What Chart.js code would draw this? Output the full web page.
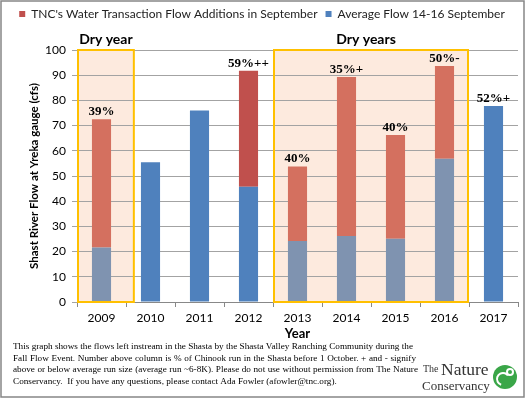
<!DOCTYPE html>
<html>
<head>
<meta charset="utf-8">
<script src="https://cdn.jsdelivr.net/npm/chart.js@4/dist/chart.umd.min.js"></script>
<style>
html,body{margin:0;padding:0;background:#fff;}
#wrap{width:526px;height:399px;position:relative;}
canvas{display:block;}
</style>
</head>
<body>
<div id="wrap"><canvas id="c" width="526" height="399"></canvas></div>
<script>
// ---- data ----
const years = ['2009','2010','2011','2012','2013','2014','2015','2016','2017'];
const averageFlow = [21.6, 55.5, 76.0, 45.7, 24.2, 26.2, 25.1, 56.8, 77.8];
const flowAdditions = [50.9, 0, 0, 46.1, 29.6, 63.1, 41.2, 36.9, 0];
const chinookPct = ['39%', '', '', '59%++', '40%', '35%+', '40%', '50%-', '52%+'];
const dryYear = [true, false, false, false, true, true, true, true, false];
const dryGroups = [
  { label: 'Dry year', from: '2009', to: '2009' },
  { label: 'Dry years', from: '2013', to: '2016' }
];
const yTicks = [0, 10, 20, 30, 40, 50, 60, 70, 80, 90, 100];
const legendLabels = ["TNC's Water Transaction Flow Additions in September", 'Average Flow 14-16 September'];
const footnoteLines = [
  'This graph shows the flows left instream in the Shasta by the Shasta Valley Ranching Community during the',
  'Fall Flow Event.  Number above column is % of Chinook run in the Shasta before 1 October.  + and - signify',
  'above or below average run size (average run ~6-8K). Please do not use without permission from The Nature',
  'Conservancy.  If you have any questions, please contact Ada Fowler (afowler@tnc.org).'
];

const RED = '#c0504d', RED_DRY = '#d4705f';
const BLUE = '#4f81bd', BLUE_DRY = '#7f93b0';
const PEACH = '#fdeade', ORANGE = '#ffc000';
const SANS = 'Lato, "Open Sans", sans-serif';
const SERIF = '"Liberation Serif", "DejaVu Serif", serif';

function colorFor(base, dry) {
  return ctx => (ctx.type === 'data' && dryYear[ctx.dataIndex] ? dry : base);
}

function justify(ctx, text, x, y, width) {
  const words = text.split(/\s+/);
  const natural = ctx.measureText(words.join(' ')).width;
  const sp = ctx.measureText(' ').width;
  const extra = (width - natural) / (words.length - 1);
  let cx = x;
  words.forEach(w => { ctx.fillText(w, cx, y); cx += ctx.measureText(w).width + sp + extra; });
}

const legendSpacer = {
  id: 'legendSpacer',
  beforeLayout(chart) {
    const lg = chart.legend;
    if (lg && !lg._spaced) {
      const fit = lg.fit.bind(lg);
      lg.fit = function () { fit(); this.height += 20; };
      lg._spaced = true;
    }
  }
};

const boxPlugin = {
  id: 'dryBoxes',
  _rect(chart, g) {
    const x = chart.scales.x, y = chart.scales.y;
    const i0 = years.indexOf(g.from), i1 = years.indexOf(g.to);
    const w = x.getPixelForValue(1) - x.getPixelForValue(0);
    let left = x.getPixelForValue(i0) - w / 2 + 1;
    let right = x.getPixelForValue(i1) + w / 2 - 1;
    if (i0 === i1) right = x.getPixelForValue(i1) + w * 0.66;
    return { left, right, top: y.getPixelForValue(100), bottom: y.getPixelForValue(0) };
  },
  beforeDraw(chart) {
    const ctx = chart.ctx;
    ctx.save();
    ctx.fillStyle = '#fff';
    ctx.fillRect(0, 0, chart.width, chart.height);
    ctx.fillStyle = PEACH;
    dryGroups.forEach(g => {
      const r = this._rect(chart, g);
      ctx.fillRect(r.left, r.top, r.right - r.left, r.bottom - r.top);
    });
    ctx.restore();
  },
  afterDatasetsDraw(chart) {
    const ctx = chart.ctx;
    ctx.save();
    ctx.strokeStyle = ORANGE;
    ctx.lineWidth = 2;
    ctx.fillStyle = '#000';
    ctx.font = 'bold 14px ' + SANS;
    ctx.textAlign = 'center';
    ctx.textBaseline = 'middle';
    dryGroups.forEach(g => {
      const r = this._rect(chart, g);
      ctx.strokeRect(r.left, r.top, r.right - r.left, r.bottom - r.top);
      ctx.fillText(g.label, (r.left + r.right) / 2 - (g.from === g.to ? 0 : 5), r.top - 11);
    });
    // percentage labels above the stacks
    ctx.font = 'bold 13px ' + SERIF;
    ctx.textBaseline = 'alphabetic';
    const metas = chart.getSortedVisibleDatasetMetas();
    chinookPct.forEach((t, i) => {
      if (!t) return;
      let top = Infinity, cx = 0;
      metas.forEach(m => { const el = m.data[i]; if (el && el.y < top) { top = el.y; cx = el.x; } });
      ctx.fillText(t, cx, top - 4);
    });
    ctx.restore();
  },
  afterDraw(chart) {
    const ctx = chart.ctx;
    ctx.save();
    // footnote
    ctx.fillStyle = '#000';
    ctx.font = '9.2px ' + SERIF;
    ctx.textAlign = 'left';
    ctx.textBaseline = 'middle';
    const ends = [413, 416, 418];
    footnoteLines.forEach((l, i) => {
      if (i < ends.length) justify(ctx, l, 13, 347 + i * 11.5, ends[i] - 13);
      else ctx.fillText(l, 13, 347 + i * 11.5);
    });
    // logo
    ctx.fillStyle = '#333';
    ctx.font = '10px ' + SERIF;
    ctx.fillText('The', 423, 369);
    ctx.font = '17.5px ' + SERIF;
    ctx.fillText('Nature', 441, 370);
    ctx.font = '13px ' + SERIF;
    ctx.fillText('Conservancy', 422, 387);
    ctx.beginPath();
    ctx.fillStyle = '#3aa648';
    ctx.arc(505, 377, 12, 0, Math.PI * 2);
    ctx.fill();
    ctx.strokeStyle = '#fff';
    ctx.lineWidth = 2;
    ctx.beginPath();
    ctx.arc(503, 379, 6, Math.PI * 0.6, Math.PI * 1.8);
    ctx.stroke();
    ctx.beginPath();
    ctx.arc(510, 372, 3, 0, Math.PI * 2);
    ctx.stroke();
    // outer border
    ctx.strokeStyle = '#868686';
    ctx.lineWidth = 1.5;
    ctx.strokeRect(1, 1, chart.width - 3, chart.height - 3);
    ctx.restore();
  }
};

new Chart(document.getElementById('c'), {
  type: 'bar',
  data: {
    labels: years,
    datasets: [
      { label: legendLabels[1], data: averageFlow, backgroundColor: colorFor(BLUE, BLUE_DRY), stack: 's' },
      { label: legendLabels[0], data: flowAdditions, backgroundColor: colorFor(RED, RED_DRY), stack: 's' }
    ]
  },
  options: {
    responsive: false,
    animation: false,
    devicePixelRatio: 1,
    datasets: { bar: { barPercentage: 0.78, categoryPercentage: 0.5, borderWidth: 0 } },
    layout: { padding: { left: 6, right: 8, top: 0, bottom: 57 } },
    plugins: {
      legend: {
        position: 'top',
        reverse: true,
        labels: {
          boxWidth: 6, boxHeight: 6, padding: 8, color: '#222', font: { family: SANS, size: 12 },
          generateLabels(chart) {
            const items = Chart.defaults.plugins.legend.labels.generateLabels(chart);
            items.forEach(it => { it.fillStyle = it.datasetIndex === 0 ? BLUE : RED; it.strokeStyle = it.fillStyle; it.lineWidth = 0; });
            return items;
          }
        }
      },
      tooltip: { enabled: false }
    },
    scales: {
      x: {
        stacked: true,
        grid: { display: true, drawOnChartArea: false, offset: true, tickLength: 5, color: '#888' },
        border: { color: '#888' },
        ticks: { color: '#000', padding: 4, font: { family: SANS, size: 12 } },
        title: { display: true, text: 'Year', color: '#000', padding: { top: 0, bottom: 0 }, font: { family: SANS, size: 13, weight: 'bold' } },
        afterFit(s) { s.height = 40; }
      },
      y: {
        stacked: true,
        min: 0, max: 100,
        afterBuildTicks(s) { s.ticks = yTicks.map(v => ({ value: v })); },
        grid: { color: '#a3a3a3', tickLength: 5 },
        border: { color: '#888' },
        ticks: { color: '#000', padding: 6, font: { family: SANS, size: 12 } },
        title: { display: true, text: 'Shast River Flow at Yreka gauge (cfs)', color: '#000', padding: { top: 21, bottom: 0 }, font: { family: SANS, size: 11.5, weight: 'bold' } },
        afterFit(s) { s.width = 71; }
      }
    }
  },
  plugins: [legendSpacer, boxPlugin]
});
</script>
</body>
</html>
